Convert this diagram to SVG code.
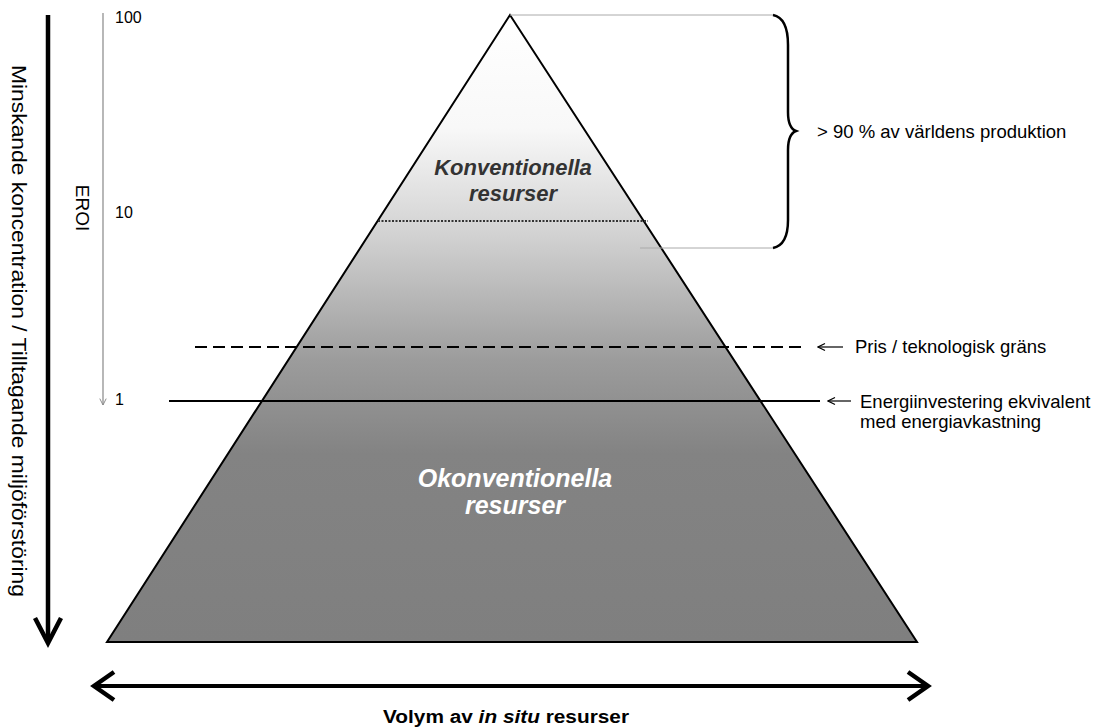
<svg xmlns="http://www.w3.org/2000/svg" width="1099" height="727" viewBox="0 0 1099 727">
<defs>
<linearGradient id="g" x1="0" y1="15" x2="0" y2="642" gradientUnits="userSpaceOnUse">
<stop offset="0" stop-color="#ffffff"/>
<stop offset="0.18" stop-color="#f8f8f8"/>
<stop offset="0.35" stop-color="#d2d2d2"/>
<stop offset="0.55" stop-color="#9c9c9c"/>
<stop offset="0.7" stop-color="#838383"/>
<stop offset="1" stop-color="#7f7f7f"/>
</linearGradient>
<marker id="thin" viewBox="0 0 10 10" refX="9" refY="5" markerWidth="8" markerHeight="8" orient="auto" markerUnits="userSpaceOnUse">
<path d="M1,1 L9,5 L1,9" fill="none" stroke="#888" stroke-width="1.2"/>
</marker>
<marker id="small" viewBox="0 0 10 10" refX="9" refY="5" markerWidth="10" markerHeight="10" orient="auto" markerUnits="userSpaceOnUse">
<path d="M2,1.5 L9,5 L2,8.5" fill="none" stroke="#000" stroke-width="1.2"/>
</marker>
</defs>
<style>
text{font-family:"Liberation Sans",Arial,sans-serif;fill:#000}
.lab{font-size:18.5px}
.tick{font-size:16px}
.big{fill:none;stroke:#000;stroke-width:4.5;stroke-linejoin:miter}
</style>
<g id="pyramid">
<polygon points="510,15 107,642 917,642" fill="url(#g)" stroke="#000" stroke-width="2"/>
</g>
<g id="connectors">
<line x1="378" y1="221" x2="648" y2="221" stroke="#333" stroke-width="2" stroke-dasharray="2,1.5"/>
<line x1="195" y1="347" x2="805" y2="347" stroke="#000" stroke-width="2" stroke-dasharray="12,6"/>
<line x1="169" y1="401" x2="820" y2="401" stroke="#000" stroke-width="2"/>
<line x1="510" y1="15" x2="773" y2="15" stroke="#aaa" stroke-width="1"/>
<line x1="640" y1="248" x2="773" y2="248" stroke="#aaa" stroke-width="1"/>
<path d="M773,15 Q788,18 788,45 L788,112 Q788,128 796,131 Q788,134 788,150 L788,220 Q788,245 773,248" fill="none" stroke="#000" stroke-width="2.5"/>
<line x1="843" y1="347" x2="818" y2="347" stroke="#000" stroke-width="1.2" marker-end="url(#small)"/>
<line x1="851" y1="401" x2="828" y2="401" stroke="#000" stroke-width="1.2" marker-end="url(#small)"/>
<line x1="103" y1="13" x2="103" y2="405" stroke="#888" stroke-width="1.2" marker-end="url(#thin)"/>
<line x1="48" y1="15" x2="48" y2="642" stroke="#000" stroke-width="4.5"/>
<path class="big" d="M35,618 L48,643 L61,618"/>
<line x1="95" y1="686" x2="927" y2="686" stroke="#000" stroke-width="4"/>
<path class="big" d="M114,672 L94,686 L114,700"/>
<path class="big" d="M908,672 L928,686 L908,700"/>
</g>
<g id="labels">
<text x="513" y="175" text-anchor="middle" font-size="22" font-weight="bold" font-style="italic" style="fill:#333">Konventionella</text>
<text x="513" y="201" text-anchor="middle" font-size="22" font-weight="bold" font-style="italic" style="fill:#333">resurser</text>
<text x="515" y="487" text-anchor="middle" font-size="25" font-weight="bold" font-style="italic" style="fill:#fff">Okonventionella</text>
<text x="515" y="514" text-anchor="middle" font-size="25" font-weight="bold" font-style="italic" style="fill:#fff">resurser</text>
<text x="817" y="138" class="lab">&gt; 90 % av världens produktion</text>
<text x="855" y="353" class="lab">Pris / teknologisk gräns</text>
<text x="860" y="408" class="lab">Energiinvestering ekvivalent</text>
<text x="860" y="428" class="lab">med energiavkastning</text>
<text x="115" y="23" class="tick">100</text>
<text x="115" y="218" class="tick">10</text>
<text x="115" y="405" class="tick">1</text>
<text transform="translate(76,208) rotate(90)" text-anchor="middle" font-size="19">EROI</text>
<text transform="translate(12,331) rotate(90)" text-anchor="middle" font-size="20" textLength="532" lengthAdjust="spacingAndGlyphs">Minskande koncentration / Tilltagande miljöförstöring</text>
<text x="506" y="723" text-anchor="middle" font-size="18" font-weight="bold" textLength="246" lengthAdjust="spacingAndGlyphs">Volym av <tspan font-style="italic">in situ</tspan> resurser</text>
</g>
</svg>
